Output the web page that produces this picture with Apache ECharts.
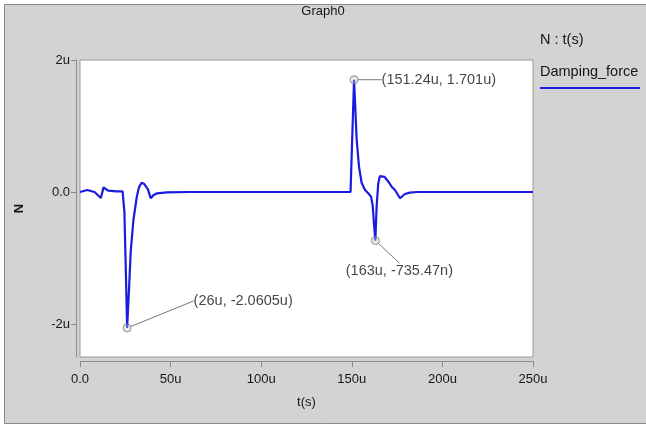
<!DOCTYPE html>
<html>
<head>
<meta charset="utf-8">
<script src="https://cdn.jsdelivr.net/npm/echarts@6/dist/echarts.min.js"></script>
<style>
html,body{margin:0;padding:0;background:#ffffff;}
#main{width:646px;height:428px;}
</style>
</head>
<body>
<div id="main"></div>
<script>
// time in microseconds
var times = [0,4,8,11.5,13,15.5,20,23.5,24.5,25.3,26,27,28,29.5,31.3,32.5,34,35.5,37.5,39,40.5,42.5,48,60,100,149.3,151.24,151.8,152.7,154,155.4,157.3,159.1,160.6,161.5,162.3,163,163.7,164.6,165.5,166.5,168,170.1,172,173.8,176.6,179.3,182,186,200,250];
// Damping_force in micro-newtons
var force = [0,0.03,0,-0.09,0.07,0.02,0.01,0.01,-0.3,-1.2,-2.0605,-1.5,-0.9,-0.42,-0.08,0.07,0.14,0.12,0.04,-0.095,-0.05,-0.02,-0.005,0,0,0,1.701,1.35,0.79,0.38,0.14,0.03,-0.02,-0.07,-0.2,-0.5,-0.73547,-0.22,0.13,0.24,0.27,0.23,0.16,0.08,0.03,-0.095,-0.03,-0.01,0,0,0];
var markTimes = [26, 151.24, 163];
var markValues = [-2.0605, 1.701, -0.73547];
var markLabels = ['(26u, -2.0605u)', '(151.24u, 1.701u)', '(163u, -735.47n)'];
var xTicks = [0,50,100,150,200,250];
var yTicks = [-2,0,2];

var lineData = times.map(function(t,i){return [t, force[i]];});
var markOffsets = [[58,-27],[19,0],[24,14]];
var markPos = ['right','right','bottom'];
var markData = markTimes.map(function(t,i){
  return {value:[t, markValues[i]],
    label:{formatter:markLabels[i], position:markPos[i]}};
});
function fmt(v){ return v === 0 ? '0.0' : (v + 'u'); }

var font = 'Liberation Sans, Arial, sans-serif';
var txt = '#151515';
var chart = echarts.init(document.getElementById('main'));
chart.setOption({
  animation:false,
  backgroundColor:'#ffffff',
  graphic:[
    {type:'rect', z:-10, shape:{x:4.5,y:4.5,width:660,height:419}, style:{fill:'#d3d3d3', stroke:'#8a8a8a', lineWidth:1}},
    {type:'text', left:'center', top:5, style:{text:'Graph0', font:'13px '+font, fill:txt}},
    {type:'text', left:540, top:32, style:{text:'N : t(s)', font:'14.5px '+font, fill:txt}},
    {type:'text', left:540, top:64, style:{text:'Damping_force', font:'14.5px '+font, fill:txt}},
    {type:'line', shape:{x1:540,y1:88,x2:640,y2:88}, style:{stroke:'#1a1ae0', lineWidth:2}}
  ],
  grid:{left:80, right:113, top:60, bottom:71, show:true, backgroundColor:'#ffffff', borderColor:'#9a9a9a', borderWidth:1},
  xAxis:{
    type:'value', min:0, max:250, interval:50, offset:4,
    name:'t(s)', nameLocation:'middle', nameGap:35,
    nameTextStyle:{fontFamily:font, fontSize:13, color:txt},
    axisLine:{show:true, onZero:false, lineStyle:{color:'#8a8a8a'}},
    axisTick:{show:true, length:6, lineStyle:{color:'#8a8a8a'}},
    axisLabel:{formatter:fmt, fontFamily:font, fontSize:13, color:txt, margin:12},
    splitLine:{show:false}
  },
  yAxis:{
    type:'value', min:-2.5, max:2, offset:4,
    name:'N', nameLocation:'middle', nameGap:50, nameRotate:90,
    nameTextStyle:{fontFamily:font, fontSize:13, color:txt, fontWeight:'bold'},
    axisLine:{show:true, onZero:false, lineStyle:{color:'#8a8a8a'}},
    axisTick:{show:true, length:5, customValues:yTicks, lineStyle:{color:'#8a8a8a'}},
    axisLabel:{customValues:yTicks, formatter:fmt, fontFamily:font, fontSize:13, color:txt, margin:6},
    splitLine:{show:false}
  },
  series:[
    {type:'line', name:'Damping_force', data:lineData, showSymbol:false, symbol:'none',
      lineStyle:{color:'#1a1ae0', width:2.2}, z:2},
    {type:'scatter', data:markData, symbol:'circle', symbolSize:8, z:3,
      itemStyle:{color:'rgba(200,200,210,0.5)', borderColor:'#777', borderWidth:1},
      label:{show:true, fontFamily:font, fontSize:14.5, color:txt, distance:4},
      labelLine:{show:true, lineStyle:{color:'#777', width:1}},
      labelLayout:function(p){ return {dx:markOffsets[p.dataIndex][0], dy:markOffsets[p.dataIndex][1]}; }
    }
  ]
});
</script>
</body>
</html>
